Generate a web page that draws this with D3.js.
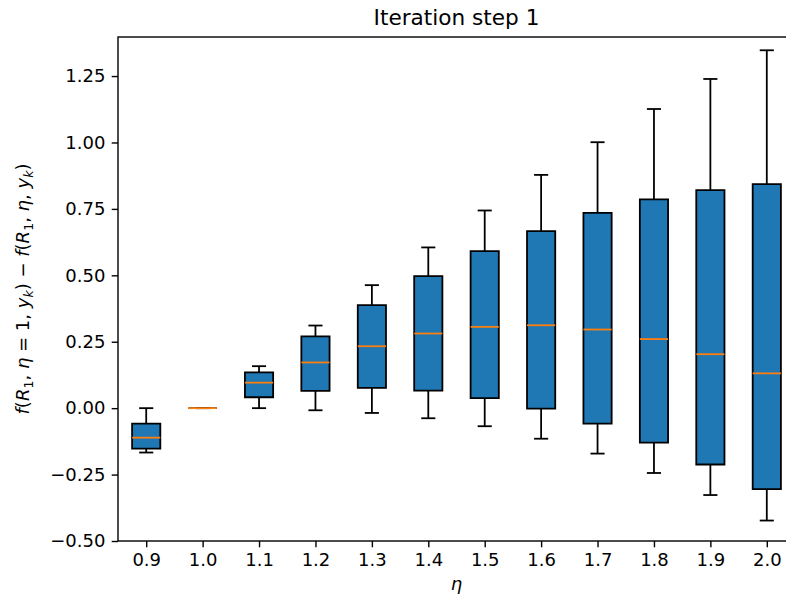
<!DOCTYPE html>
<html>
<head>
<meta charset="utf-8">
<script src="https://cdn.jsdelivr.net/npm/d3@7"></script>
<style>
  html, body { margin: 0; padding: 0; background: #fff; }
  svg { display: block; font-family: "DejaVu Sans", sans-serif; }
</style>
</head>
<body>
<svg id="chart" width="786" height="599"></svg>
<script>
// eta values along the x axis
const etaLabels = ["0.9", "1.0", "1.1", "1.2", "1.3", "1.4", "1.5", "1.6", "1.7", "1.8", "1.9", "2.0"];
// box statistics for each eta
const whiskerLow  = [-0.167, 0.000, 0.000, -0.008, -0.018, -0.038, -0.068, -0.115, -0.171, -0.244, -0.327, -0.423];
const q1          = [-0.152, 0.000, 0.041,  0.065,  0.076,  0.066,  0.038, -0.002, -0.058, -0.130, -0.212, -0.305];
const medians     = [-0.111, 0.000, 0.096,  0.172,  0.233,  0.281,  0.306,  0.312,  0.296,  0.260,  0.203,  0.131];
const q3          = [-0.058, 0.000, 0.135,  0.270,  0.388,  0.497,  0.591,  0.666,  0.735,  0.786,  0.821,  0.843];
const whiskerHigh = [ 0.000, 0.000, 0.158,  0.311,  0.463,  0.605,  0.744,  0.878,  1.001,  1.126,  1.239,  1.347];
const yTicks = [-0.5, -0.25, 0, 0.25, 0.5, 0.75, 1.0, 1.25];

const svg = d3.select("#chart");
const plot = { left: 118, right: 795, top: 37, bottom: 541 };
const pos = etaLabels.map((_, i) => i + 1);

const x = d3.scaleLinear().domain([0.5, 12.5]).range([plot.left, plot.right]);
const y = d3.scaleLinear().domain([-0.5, 1.397]).range([plot.bottom, plot.top]);

const boxW = 0.5;   // box width in data units
const capW = 0.25;  // cap width in data units
const lw = 1.8;

const boxes = etaLabels.map((lab, i) => ({
  p: pos[i], lo: whiskerLow[i], q1: q1[i], med: medians[i], q3: q3[i], hi: whiskerHigh[i]
}));

const g = svg.append("g");

// whiskers and caps
g.selectAll(".whisker").data(boxes).join("g").each(function(d) {
  const s = d3.select(this);
  s.append("line").attr("x1", x(d.p)).attr("x2", x(d.p)).attr("y1", y(d.q1)).attr("y2", y(d.lo))
    .attr("stroke", "#000").attr("stroke-width", lw);
  s.append("line").attr("x1", x(d.p)).attr("x2", x(d.p)).attr("y1", y(d.q3)).attr("y2", y(d.hi))
    .attr("stroke", "#000").attr("stroke-width", lw);
  s.append("line").attr("x1", x(d.p - capW / 2)).attr("x2", x(d.p + capW / 2)).attr("y1", y(d.lo)).attr("y2", y(d.lo))
    .attr("stroke", "#000").attr("stroke-width", lw);
  s.append("line").attr("x1", x(d.p - capW / 2)).attr("x2", x(d.p + capW / 2)).attr("y1", y(d.hi)).attr("y2", y(d.hi))
    .attr("stroke", "#000").attr("stroke-width", lw);
});

// boxes (as paths so zero-height boxes still show their outline)
g.selectAll(".box").data(boxes).join("path")
  .attr("d", d => {
    const x0 = x(d.p - boxW / 2), x1 = x(d.p + boxW / 2);
    return `M${x0},${y(d.q1)}L${x1},${y(d.q1)}L${x1},${y(d.q3)}L${x0},${y(d.q3)}Z`;
  })
  .attr("fill", "#1f77b4").attr("stroke", "#000").attr("stroke-width", lw)
  .attr("stroke-linejoin", "miter");

// medians
g.selectAll(".median").data(boxes).join("line")
  .attr("x1", d => x(d.p - boxW / 2)).attr("x2", d => x(d.p + boxW / 2))
  .attr("y1", d => y(d.med)).attr("y2", d => y(d.med))
  .attr("stroke", "#ff7f0e").attr("stroke-width", lw);

// axes
const tickLen = 6.3, tickPad = 6.3, fs = 18;
const xAxis = d3.axisBottom(x).tickValues(pos).tickFormat((d, i) => etaLabels[i])
  .tickSize(tickLen).tickPadding(tickPad);
const yAxis = d3.axisLeft(y).tickValues(yTicks).tickFormat(d3.format(".2f"))
  .tickSize(tickLen).tickPadding(tickPad);

const gx = svg.append("g").attr("transform", `translate(0,${plot.bottom})`).call(xAxis);
const gy = svg.append("g").attr("transform", `translate(${plot.left},0)`).call(yAxis);
[gx, gy].forEach(a => {
  a.select(".domain").remove();
  a.selectAll(".tick line").attr("stroke", "#000").attr("stroke-width", 1.4);
  a.selectAll(".tick text").attr("fill", "#000").attr("font-size", fs)
    .attr("font-family", "DejaVu Sans");
});

// frame
svg.append("rect").attr("x", plot.left).attr("y", plot.top)
  .attr("width", plot.right - plot.left).attr("height", plot.bottom - plot.top)
  .attr("fill", "none").attr("stroke", "#000").attr("stroke-width", 1.4);

// title
svg.append("text").attr("x", (plot.left + plot.right) / 2).attr("y", 24.5)
  .attr("text-anchor", "middle").attr("font-size", 21.6).attr("fill", "#000")
  .text("Iteration step 1");

// x label
svg.append("text").attr("x", (plot.left + plot.right) / 2).attr("y", 590)
  .attr("text-anchor", "middle").attr("font-size", fs).attr("font-style", "italic").attr("fill", "#000")
  .text("η");

// y label: f(R_1, η = 1, y_k) − f(R_1, η, y_k)
const yl = svg.append("text")
  .attr("transform", `translate(29,${(plot.top + plot.bottom) / 2}) rotate(-90)`)
  .attr("text-anchor", "middle").attr("font-size", fs).attr("fill", "#000");
const parts = [
  ["f", "i"], ["(", "n"], ["R", "i"], ["1", "s"], [", ", "n"], ["η", "i"], [" = 1, ", "n"], ["y", "i"], ["k", "si"], [")", "n"],
  [" − ", "n"],
  ["f", "i"], ["(", "n"], ["R", "i"], ["1", "s"], [", ", "n"], ["η", "i"], [", ", "n"], ["y", "i"], ["k", "si"], [")", "n"]
];
let inSub = false;
parts.forEach(([t, k]) => {
  const sp = yl.append("tspan").text(t);
  const sub = k === "s" || k === "si";
  if (k === "i" || k === "si") sp.attr("font-style", "italic");
  if (sub) sp.attr("font-size", fs * 0.7);
  if (sub && !inSub) sp.attr("dy", 4);
  if (!sub && inSub) sp.attr("dy", -4);
  inSub = sub;
});
</script>
</body>
</html>
